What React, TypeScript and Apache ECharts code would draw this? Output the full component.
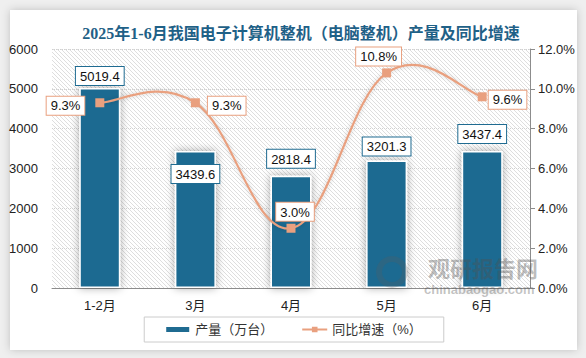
import React, { useEffect, useRef } from "react";
import * as echarts from "echarts";

const categories = ["1-2月", "3月", "4月", "5月", "6月"];
const production = [5019.4, 3439.6, 2818.4, 3201.3, 3437.4];
const growth = [9.3, 9.3, 3.0, 10.8, 9.6];
const leftTicks = { min: 0, max: 6000, interval: 1000 };
const rightTicks = { min: 0, max: 12, interval: 2 };
const titleText = "2025年1-6月我国电子计算机整机（电脑整机）产量及同比增速";
const seriesNames = ["产量（万台）", "同比增速（%）"];

const BAR = "#1f6b91";
const LINE = "#e9a07f";
const FONT = "'Liberation Sans', 'Noto Sans CJK SC', sans-serif";

// decorative diagonal hatch of the plot background
function hatchLines(x0: number, y0: number, w: number, h: number, step: number) {
  const out: any[] = [];
  for (let c = -h; c < w; c += step) {
    let ya = y0;
    let xa = x0 + c;
    if (xa < x0) {
      ya = y0 + (x0 - xa);
      xa = x0;
    }
    let yb = y0 + h;
    let xb = x0 + c + h;
    if (xb > x0 + w) {
      yb = y0 + h - (xb - (x0 + w));
      xb = x0 + w;
    }
    if (yb <= ya) continue;
    out.push({
      type: "line",
      z: -5,
      silent: true,
      shape: { x1: xa, y1: ya, x2: xb, y2: yb },
      style: { stroke: "#dadada", lineWidth: 0.9 },
    });
  }
  return out;
}

export default function App() {
  const ref = useRef<HTMLDivElement>(null);
  useEffect(() => {
    document.body.style.margin = "0";
    const chart = echarts.init(ref.current!, null, { renderer: "svg" });
    const barLabelCfg = [
      { position: "top", distance: 3 },
      { position: "insideTop", distance: 14 },
      { position: "top", distance: 8 },
      { position: "top", distance: 5 },
      { position: "top", distance: 8 },
    ];
    const lineLabelCfg = [
      { position: "left", distance: 11, offset: [0, 3] },
      { position: "right", distance: 8, offset: [0, 3] },
      { position: "top", distance: 3, offset: [4, 0] },
      { position: "top", distance: 3, offset: [-8, 0] },
      { position: "right", distance: 2, offset: [0, 3] },
    ];
    const boxLabel = (color: string) => ({
      show: true,
      color: "#111",
      fontSize: 13,
      fontFamily: FONT,
      backgroundColor: "#fff",
      borderColor: color,
      borderWidth: 1,
      padding: [3, 4, 2, 4],
    });
    const K = 1 / 5;
    const renderCurve = (params: any, api: any) => {
      const i = params.dataIndex;
      const n = growth.length;
      if (i >= n - 1) return null;
      const pt = (j: number) => {
        const jj = Math.max(0, Math.min(n - 1, j));
        return api.coord([jj, growth[jj]]);
      };
      const p0 = pt(i - 1);
      const p1 = pt(i);
      const p2 = pt(i + 1);
      const p3 = pt(i + 2);
      return {
        type: "bezierCurve",
        shape: {
          x1: p1[0],
          y1: p1[1],
          x2: p2[0],
          y2: p2[1],
          cpx1: p1[0] + (p2[0] - p0[0]) * K,
          cpy1: p1[1] + (p2[1] - p0[1]) * K,
          cpx2: p2[0] - (p3[0] - p1[0]) * K,
          cpy2: p2[1] - (p3[1] - p1[1]) * K,
        },
        style: {
          stroke: LINE,
          lineWidth: 2.2,
          fill: "none",
          shadowBlur: 4,
          shadowColor: "rgba(0,0,0,0.2)",
        },
      };
    };
    chart.setOption({
      animation: false,
      backgroundColor: "#efefef",
      title: {
        text: titleText,
        left: 296,
        textAlign: "center",
        top: 20,
        textStyle: {
          color: "#1f6187",
          fontSize: 16,
          fontWeight: "bold",
          fontFamily: "'Liberation Serif', 'Noto Sans CJK SC', serif",
        },
      },
      graphic: [
        {
          type: "rect",
          z: -10,
          silent: true,
          shape: { x: 10, y: 10, width: 567, height: 340 },
          style: { fill: "#fff", shadowBlur: 8, shadowColor: "rgba(0,0,0,0.2)" },
        },
        ...hatchLines(52, 49, 478, 239, 4),
        {
          type: "ring",
          z: 100,
          shape: { cx: 392, cy: 272, r: 16, r0: 10 },
          style: { fill: "rgba(90,90,90,0.25)" },
        },
        {
          type: "text",
          z: 100,
          x: 428,
          y: 256,
          style: {
            text: "观研报告网",
            fontSize: 22,
            fontWeight: "bold",
            fontFamily: "'Noto Sans CJK SC', sans-serif",
            fill: "rgba(80,80,80,0.38)",
          },
        },
        {
          type: "text",
          z: 100,
          x: 424,
          y: 283,
          style: {
            text: "chinabaogao.com",
            fontSize: 13,
            fontWeight: "bold",
            fontFamily: "'Liberation Sans', sans-serif",
            fill: "rgba(80,80,80,0.35)",
          },
        },
      ],
      grid: {
        left: 52,
        right: 56,
        top: 49,
        bottom: 70,
      },
      legend: {
        bottom: 16,
        left: "center",
        padding: [6, 22, 6, 20],
        itemGap: 28,
        borderColor: "#cccccc",
        borderWidth: 1,
        itemWidth: 25,
        itemHeight: 7,
        textStyle: { color: "#333", fontSize: 13, fontFamily: FONT },
        data: [
          { name: seriesNames[0], icon: "rect" },
          {
            name: seriesNames[1],
            lineStyle: { color: LINE, width: 2, opacity: 1 },
          },
        ],
      },
      xAxis: {
        type: "category",
        data: categories,
        axisLine: { lineStyle: { color: "#8c8c8c", width: 1 } },
        axisTick: { show: false },
        axisLabel: { color: "#222", fontSize: 13, fontFamily: FONT, margin: 11 },
      },
      yAxis: [
        {
          type: "value",
          ...leftTicks,
          axisLine: { show: false },
          axisTick: { show: false },
          axisLabel: {
            color: "#222",
            fontSize: 13,
            fontFamily: FONT,
            margin: 14,
            formatter: (v: number) => String(v),
          },
          splitLine: { show: true, lineStyle: { type: "dotted", color: "#d0d0d0" } },
        },
        {
          type: "value",
          ...rightTicks,
          position: "right",
          axisLine: { show: true, lineStyle: { color: "#8c8c8c" } },
          axisTick: { show: true, inside: false, length: 5, lineStyle: { color: "#8c8c8c" } },
          axisLabel: {
            color: "#222",
            fontSize: 13,
            fontFamily: FONT,
            margin: 8,
            formatter: (v: number) => v.toFixed(1) + "%",
          },
          splitLine: { show: false },
        },
      ],
      series: [
        {
          name: seriesNames[0],
          type: "bar",
          barWidth: 41,
          yAxisIndex: 0,
          itemStyle: {
            color: BAR,
            borderColor: "#fff",
            borderWidth: 1.5,
            shadowBlur: 8,
            shadowColor: "rgba(0,0,0,0.35)",
          },
          data: production.map((v, i) => ({
            value: v,
            label: { ...boxLabel(BAR), ...barLabelCfg[i], formatter: (p: any) => p.value.toFixed(1) },
          })),
        },
        {
          name: "curve",
          type: "custom",
          yAxisIndex: 1,
          renderItem: renderCurve,
          data: growth.map((v, i) => [i, v]),
          encode: { x: 0, y: 1 },
          z: 4,
          silent: true,
        },
        {
          name: seriesNames[1],
          type: "line",
          yAxisIndex: 1,
          symbol: "rect",
          symbolSize: 9,
          lineStyle: { color: LINE, width: 2, opacity: 0 },
          itemStyle: { color: LINE },
          data: growth.map((v, i) => ({
            value: v,
            label: { ...boxLabel(LINE), ...lineLabelCfg[i], formatter: (p: any) => p.value.toFixed(1) + "%" },
          })),
          z: 5,
        },
      ],
    });
    return () => chart.dispose();
  }, []);
  return (
    <div
      ref={ref}
      style={{ position: "fixed", left: 0, top: 0, width: 586, height: 358 }}
    />
  );
}
